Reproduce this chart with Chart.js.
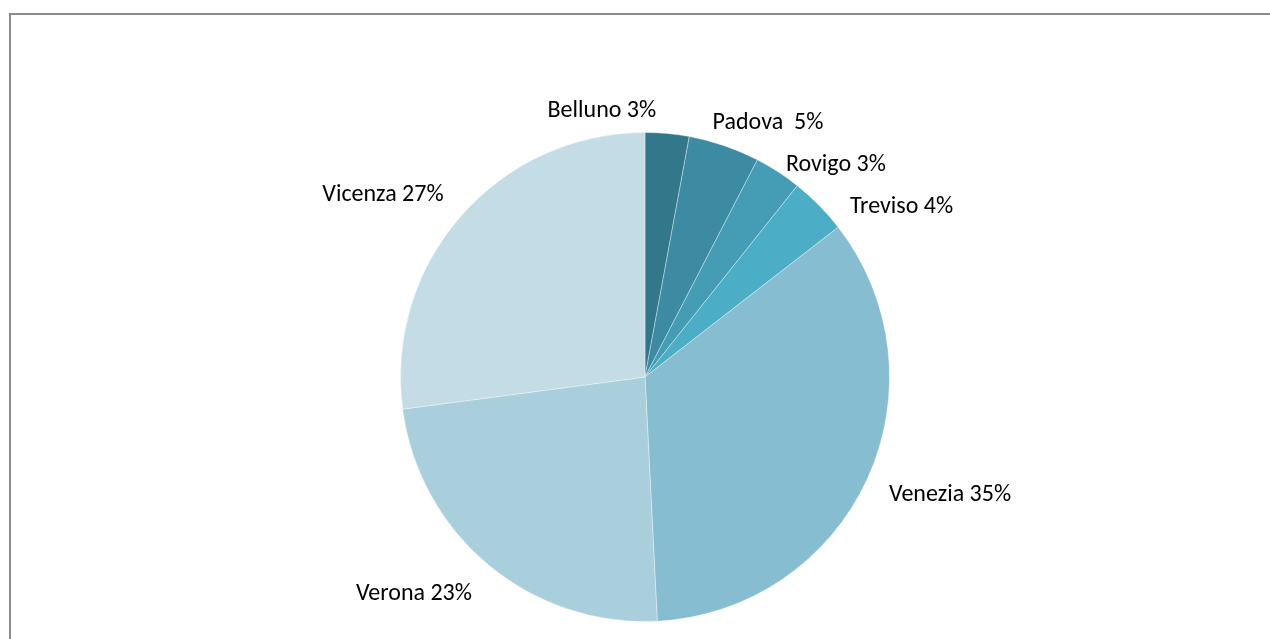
<!DOCTYPE html>
<html>
<head>
<meta charset="utf-8">
<script src="https://cdn.jsdelivr.net/npm/chart.js@4.4.1/dist/chart.umd.min.js"></script>
<style>
    html, body { margin: 0; padding: 0; background: #ffffff; }
    body { width: 1270px; height: 639px; position: relative; overflow: hidden; }
    #cornice {
        position: absolute; left: 9px; top: 13px; width: 1300px; height: 700px;
        border-left: 2px solid #8a8a8a; border-top: 2px solid #8a8a8a;
    }
    #wrap { position: absolute; left: 0; top: 0; width: 1270px; height: 639px; }
</style>
</head>
<body>
<div id="cornice"></div>
<div id="wrap"><canvas id="graficoTorta" width="1270" height="639"></canvas></div>
<script>
var province = ['Belluno', 'Padova', 'Rovigo', 'Treviso', 'Venezia', 'Verona', 'Vicenza'];
var etichette = ['Belluno 3%', 'Padova  5%', 'Rovigo 3%', 'Treviso 4%', 'Venezia 35%', 'Verona 23%', 'Vicenza 27%'];
var quote = [2.9, 4.7, 3.1, 3.8, 34.7, 23.7, 27.1];
var colori = ['#33788a', '#3c8ba3', '#449db5', '#4badc6', '#86bdd0', '#a9cedc', '#c4dce5'];

// piccoli aggiustamenti delle etichette (come fa Excel per evitare sovrapposizioni)
var spostamenti = [[-72, 6], [20, 5], [21, 18], [33, 22], [11, 4], [-26, 7], [-19, -2]];

var etichettePlugin = {
    id: 'etichetteEsterne',
    afterDatasetsDraw: function (chart) {
        var ctx = chart.ctx;
        var meta = chart.getDatasetMeta(0);
        ctx.save();
        ctx.font = '24px Carlito, Lato, "Open Sans", sans-serif';
        ctx.fillStyle = '#000000';
        ctx.textAlign = 'center';
        ctx.textBaseline = 'middle';
        meta.data.forEach(function (arc, i) {
            var p = arc.getProps(['x', 'y', 'startAngle', 'endAngle', 'outerRadius'], true);
            var a = (p.startAngle + p.endAngle) / 2;
            var r = p.outerRadius + 18;
            var px = p.x + Math.cos(a) * r;
            var py = p.y + Math.sin(a) * r;
            var w = ctx.measureText(etichette[i]).width;
            var h = 22;
            var cx = px + Math.cos(a) * w / 2 + spostamenti[i][0];
            var cy = py + Math.sin(a) * h / 2 + spostamenti[i][1];
            ctx.fillText(etichette[i], cx, cy);
        });
        ctx.restore();
    }
};

var ctx = document.getElementById('graficoTorta').getContext('2d');
var chartTorta = new Chart(ctx, {
    type: 'pie',
    data: {
        labels: province,
        datasets: [{
            data: quote,
            backgroundColor: colori,
            borderColor: 'rgba(255, 255, 255, 0.35)',
            borderWidth: 1,
            hoverOffset: 0
        }]
    },
    options: {
        responsive: false,
        animation: false,
        events: [],
        layout: { padding: { left: 400, right: 380, top: 132, bottom: 17 } },
        plugins: {
            legend: { display: false },
            tooltip: { enabled: false }
        }
    },
    plugins: [etichettePlugin]
});
</script>
</body>
</html>
